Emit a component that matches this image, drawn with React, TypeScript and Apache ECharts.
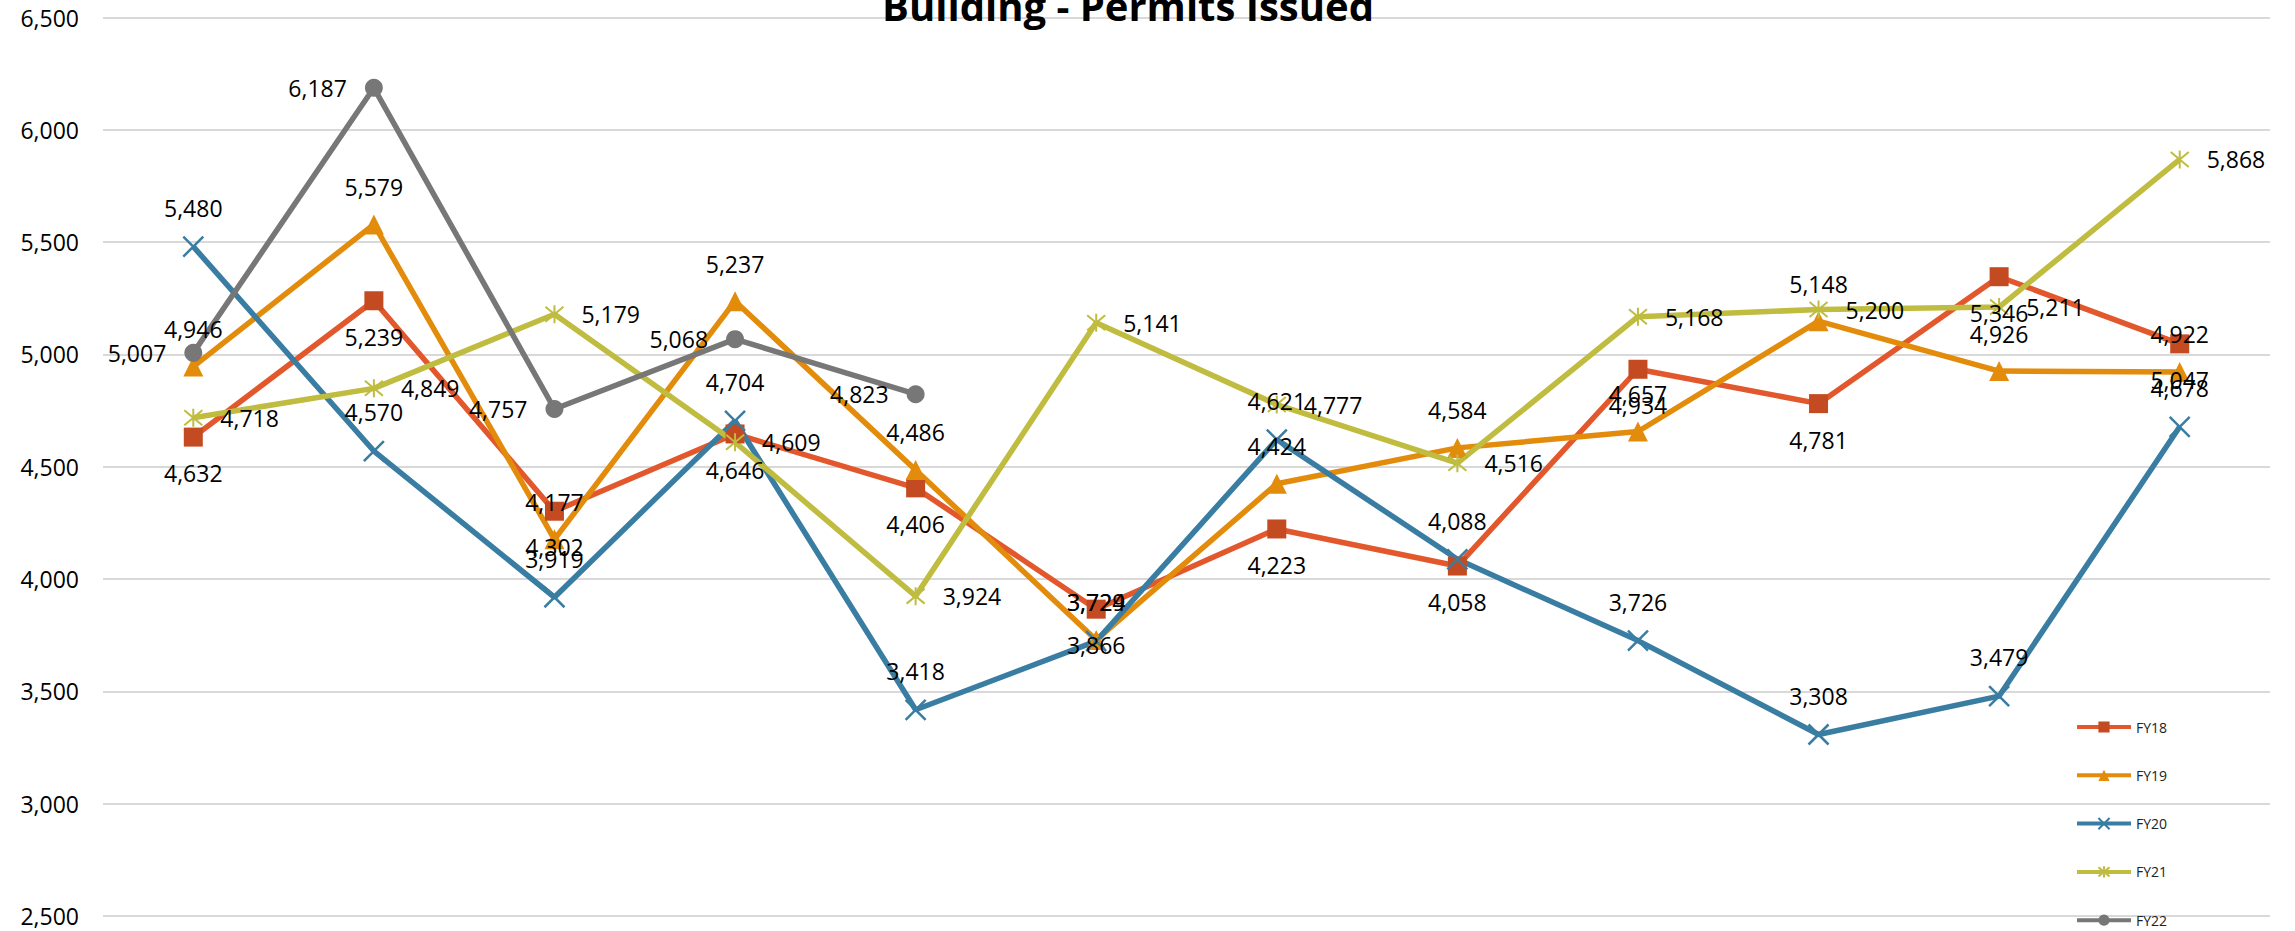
import React, { useEffect, useRef } from "react";
import * as echarts from "echarts";

const categories = ["Jul", "Aug", "Sep", "Oct", "Nov", "Dec", "Jan", "Feb", "Mar", "Apr", "May", "Jun"];
const fy18 = [4632, 5239, 4302, 4646, 4406, 3866, 4223, 4058, 4934, 4781, 5346, 5047];
const fy19 = [4946, 5579, 4177, 5237, 4486, 3729, 4424, 4584, 4657, 5148, 4926, 4922];
const fy20 = [5480, 4570, 3919, 4704, 3418, 3724, 4621, 4088, 3726, 3308, 3479, 4678];
const fy21 = [4718, 4849, 5179, 4609, 3924, 5141, 4777, 4516, 5168, 5200, 5211, 5868];
const fy22 = [5007, 6187, 4757, 5068, 4823];
const yMin = 2500;
const yMax = 6500;
const yStep = 500;

const FONT = "Open Sans";
const fmt = (v: number) => Number(v).toLocaleString("en-US");

const X_PATH = "path://M0,0L10,10M10,0L0,10";
const STAR_PATH = "path://M0,0L10,10M10,0L0,10M5,-1L5,11";

function makeSeries(
  name: string,
  data: number[],
  lineColor: string,
  markColor: string,
  symbol: string,
  symbolSize: number,
  pos: string,
  dist: number,
  borderWidth: number
) {
  return {
    name,
    type: "line",
    data,
    symbol,
    symbolSize,
    showAllSymbol: true,
    lineStyle: { color: lineColor, width: 5.5 },
    itemStyle: { color: markColor, borderColor: markColor, borderWidth },
    label: {
      show: true,
      position: pos,
      distance: dist,
      color: "#000",
      fontFamily: FONT,
      fontSize: 23,
      formatter: (p: any) => fmt(p.value),
    },
    emphasis: { disabled: true },
  };
}

export default function App() {
  const ref = useRef<HTMLDivElement>(null);
  useEffect(() => {
    document.body.style.margin = "0";
    const chart = echarts.init(ref.current!, null, { renderer: "svg" });
    chart.setOption({
      animation: false,
      backgroundColor: "#fff",
      title: {
        text: "Building - Permits Issued",
        left: 1128,
        textAlign: "center",
        top: -15,
        padding: 0,
        textStyle: { fontFamily: FONT, fontWeight: "bold", fontSize: 40, color: "#000" },
      },
      grid: { left: 103, right: 25, top: 17.5, bottom: 15, containLabel: false, outerBoundsMode: "none" },
      legend: {
        orient: "vertical",
        left: 2075,
        top: 720,
        itemWidth: 54,
        itemHeight: 14,
        itemGap: 34.3,
        padding: 0,
        textStyle: { fontFamily: FONT, fontSize: 14, color: "#222" },
        lineStyle: { width: 4 },
        data: ["FY18", "FY19", "FY20", "FY21", "FY22"],
      },
      xAxis: {
        type: "category",
        data: categories,
        boundaryGap: true,
        axisLine: { show: false },
        axisTick: { show: false },
        axisLabel: { show: false },
        splitLine: { show: false },
      },
      yAxis: {
        type: "value",
        min: yMin,
        max: yMax,
        interval: yStep,
        axisLine: { show: false },
        axisTick: { show: false },
        axisLabel: {
          margin: 24,
          color: "#000",
          fontFamily: FONT,
          fontSize: 23,
          formatter: (v: number) => fmt(v),
        },
        splitLine: { show: true, lineStyle: { color: "#D9D9D9", width: 2 } },
      },
      series: [
        makeSeries("FY18", fy18, "#E2582C", "#C44A22", "rect", 19, "bottom", 15, 0),
        makeSeries("FY19", fy19, "#E38B0B", "#E38B0B", "triangle", 20, "top", 16, 0),
        makeSeries("FY20", fy20, "#3A7DA2", "#3A7DA2", X_PATH, 20, "top", 16, 2.5),
        makeSeries("FY21", fy21, "#BFBC40", "#BFBC40", STAR_PATH, 18, "right", 17, 2),
        makeSeries("FY22", fy22, "#777777", "#777777", "circle", 18, "left", 18, 0),
      ],
    });
    return () => chart.dispose();
  }, []);
  return (
    <div
      ref={ref}
      style={{ position: "fixed", left: 0, top: 0, width: 2295, height: 931 }}
    />
  );
}
